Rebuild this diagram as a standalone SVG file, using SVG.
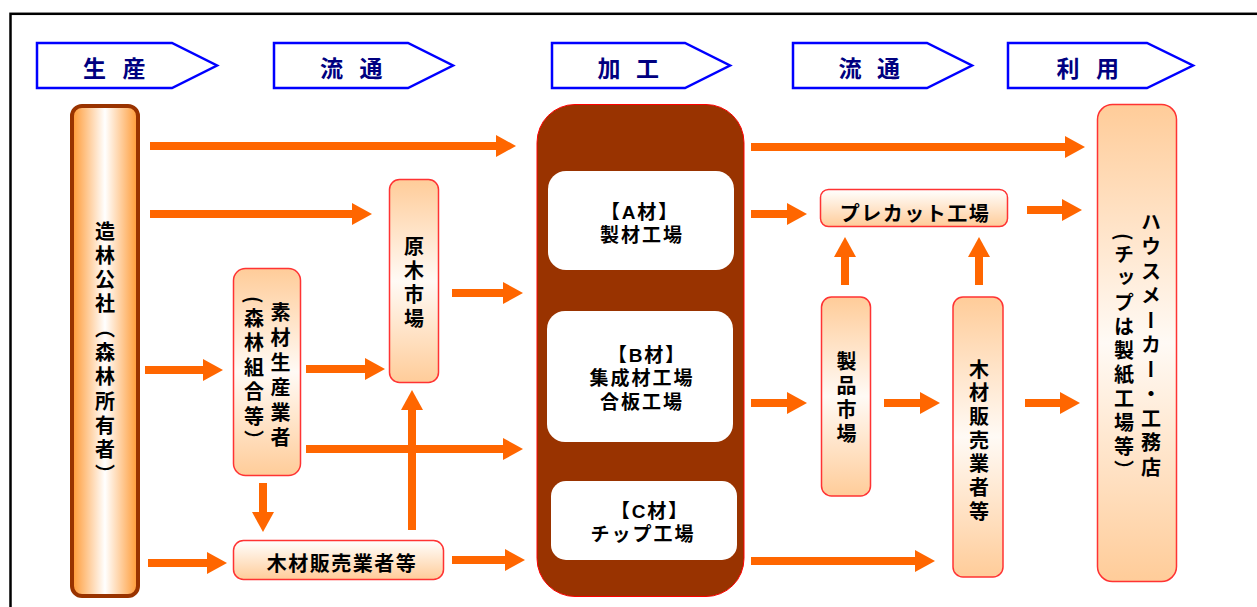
<svg xmlns="http://www.w3.org/2000/svg" width="1257" height="607" viewBox="0 0 1257 607">
<style>
.hd{fill:#fff;stroke:#0000ff;stroke-width:2.5}
.ht{font-family:"Noto Sans CJK JP",sans-serif;font-weight:bold;font-size:23px;fill:#000080;text-anchor:middle;dominant-baseline:central}
.t{font-family:"Noto Sans CJK JP",sans-serif;font-weight:bold;font-size:20px;fill:#000;text-anchor:middle;dominant-baseline:central;letter-spacing:1.5px}
.k{font-family:"Liberation Sans","Noto Sans CJK JP",sans-serif;font-size:19px;letter-spacing:2px}
.v{font-family:"Noto Sans CJK JP",sans-serif;font-weight:bold;font-size:20px;fill:#000;writing-mode:vertical-rl}
.nd{stroke:#ff3333;stroke-width:1.5}
.ar{stroke:#ff6600;stroke-width:8;fill:none;marker-end:url(#ah)}
</style>
<defs>
<marker id="ah" viewBox="0 0 20 22" refX="0" refY="11" markerWidth="20" markerHeight="22" markerUnits="userSpaceOnUse" orient="auto"><path d="M0,0 L20,11 L0,22 z" fill="#ff6600"/></marker>
<linearGradient id="gL" x1="0" y1="0" x2="1" y2="0"><stop offset="0" stop-color="#ff9933"/><stop offset="0.5" stop-color="#ffffff"/><stop offset="1" stop-color="#ff9933"/></linearGradient>
<linearGradient id="gV" x1="0" y1="0" x2="0" y2="1"><stop offset="0" stop-color="#ffcc99"/><stop offset="0.5" stop-color="#fffaf5"/><stop offset="1" stop-color="#ffcc99"/></linearGradient>
<linearGradient id="gS" x1="0" y1="0" x2="0" y2="1"><stop offset="0" stop-color="#ffffff"/><stop offset="1" stop-color="#ffcc99"/></linearGradient>
</defs>
<rect x="10.5" y="13.8" width="1300" height="700" fill="none" stroke="#000" stroke-width="2.5"/>

<g id="headers">
<g id="h1"><polygon class="hd" points="37,43 172,43 217,65.5 172,88 37,88"/><text class="ht" y="67"><tspan x="94.5">生</tspan><tspan x="134">産</tspan></text></g>
<g id="h2"><polygon class="hd" points="274,43 408,43 453,65.5 408,88 274,88"/><text class="ht" y="67"><tspan x="331.5">流</tspan><tspan x="371">通</tspan></text></g>
<g id="h3"><polygon class="hd" points="552,43 685,43 730,65.5 685,88 552,88"/><text class="ht" y="67"><tspan x="609">加</tspan><tspan x="647.5">工</tspan></text></g>
<g id="h4"><polygon class="hd" points="793,43 927,43 972,65.5 927,88 793,88"/><text class="ht" y="67"><tspan x="850">流</tspan><tspan x="888.5">通</tspan></text></g>
<g id="h5"><polygon class="hd" points="1008,43 1147,43 1193,65.5 1147,88 1008,88"/><text class="ht" y="67"><tspan x="1068">利</tspan><tspan x="1107.5">用</tspan></text></g>
</g>

<g id="connectors">
<line class="ar" x1="150" y1="146" x2="496" y2="146"/>
<line class="ar" x1="150" y1="214" x2="352" y2="214"/>
<line class="ar" x1="145" y1="370" x2="203" y2="370"/>
<line class="ar" x1="148" y1="563" x2="207" y2="563"/>
<line class="ar" x1="306" y1="369" x2="365" y2="369"/>
<line class="ar" x1="306" y1="449" x2="503" y2="449"/>
<line class="ar" x1="263" y1="483" x2="263" y2="512"/>
<line class="ar" x1="412" y1="530" x2="412" y2="410"/>
<line class="ar" x1="452" y1="293" x2="503" y2="293"/>
<line class="ar" x1="452" y1="560" x2="505" y2="560"/>
<line class="ar" x1="751" y1="147" x2="1065" y2="147"/>
<line class="ar" x1="751" y1="214" x2="787" y2="214"/>
<line class="ar" x1="751" y1="403" x2="787" y2="403"/>
<line class="ar" x1="751" y1="561" x2="915" y2="561"/>
<line class="ar" x1="884" y1="403" x2="920" y2="403"/>
<line class="ar" x1="845" y1="285" x2="845" y2="257"/>
<line class="ar" x1="979" y1="285" x2="979" y2="257"/>
<line class="ar" x1="1027" y1="210" x2="1062" y2="210"/>
<line class="ar" x1="1025" y1="403" x2="1060" y2="403"/>
</g>

<g id="n_zorin">
<rect x="72" y="106" width="66" height="490" rx="10" fill="url(#gL)" stroke="#993300" stroke-width="4"/>
<text class="v" x="105" y="221" style="letter-spacing:4.3px">造林公社（森林所有者）</text>
</g>

<g id="n_sozai">
<rect class="nd" x="233.5" y="268.5" width="67" height="207" rx="12" fill="url(#gV)"/>
<text class="v" x="280.5" y="302" style="letter-spacing:5px">素材生産業者</text>
<text class="v" x="254" y="296" style="letter-spacing:4.5px">(森林組合等）</text>
</g>

<g id="n_genboku">
<rect class="nd" x="389.5" y="179.5" width="49" height="203" rx="10" fill="url(#gV)"/>
<text class="v" x="414" y="236" style="letter-spacing:4.3px">原木市場</text>
</g>

<g id="n_mokuzai1">
<rect class="nd" x="233.5" y="540.5" width="210" height="39" rx="10" fill="url(#gS)"/>
<text class="t" x="342" y="562">木材販売業者等</text>
</g>

<g id="n_kakou">
<rect x="537" y="104.5" width="207" height="492" rx="38" fill="#993300" stroke="#ff0000" stroke-width="1"/>
<rect x="548" y="171" width="186" height="99" rx="18" fill="#fff"/>
<rect x="547" y="311" width="186" height="131" rx="18" fill="#fff"/>
<rect x="551" y="481" width="186" height="79" rx="15" fill="#fff"/>
<text class="t k"><tspan x="640" y="212">【A材】</tspan><tspan x="642" y="235">製材工場</tspan></text>
<text class="t k"><tspan x="647" y="355">【B材】</tspan><tspan x="642" y="378">集成材工場</tspan><tspan x="642" y="402">合板工場</tspan></text>
<text class="t k"><tspan x="650" y="511">【C材】</tspan><tspan x="643" y="534">チップ工場</tspan></text>
</g>

<g id="n_precut">
<rect class="nd" x="820.5" y="189.5" width="187" height="37" rx="8" fill="url(#gS)"/>
<text class="t" x="915" y="212">プレカット工場</text>
</g>

<g id="n_seihin">
<rect class="nd" x="821.5" y="297" width="49" height="199" rx="10" fill="url(#gV)"/>
<text class="v" x="846.5" y="351" style="letter-spacing:4.3px">製品市場</text>
</g>

<g id="n_mokuzai2">
<rect class="nd" x="953" y="297" width="50" height="280" rx="10" fill="url(#gV)"/>
<text class="v" x="979" y="359" style="letter-spacing:3.7px">木材販売業者等</text>
</g>

<g id="n_house">
<rect class="nd" x="1097.5" y="104.5" width="79" height="477" rx="15" fill="url(#gV)"/>
<text class="v" x="1151" y="212" style="letter-spacing:4.5px">ハウスメーカー・工務店</text>
<text class="v" x="1124" y="233" style="letter-spacing:4px">(チップは製紙工場等）</text>
</g>
</svg>
